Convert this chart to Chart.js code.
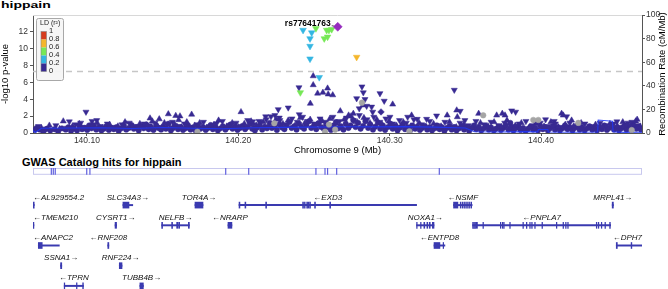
<!DOCTYPE html>
<html>
<head>
<meta charset="utf-8">
<script src="https://cdn.jsdelivr.net/npm/chart.js@4/dist/chart.umd.min.js"></script>
<style>
body { margin:0; width:668px; height:289px; overflow:hidden; background:#fff; position:relative; font-family:"Liberation Sans", Arial, sans-serif; }
canvas { position:absolute; left:0; }
.ttl { position:absolute; font-weight:bold; color:#000; white-space:nowrap; }
</style>
</head>
<body>
<div class="ttl" style="left:1px; top:0; font-size:14px; line-height:14px; transform:scale(1,0.7); transform-origin:0 0;">hippain</div>
<canvas id="assoc" width="668" height="156" style="top:0"></canvas>
<div class="ttl" style="left:22px; top:156px; font-size:11px; line-height:12px;">GWAS Catalog hits for hippain</div>
<canvas id="catalog" width="668" height="20" style="top:160px"></canvas>
<canvas id="genes" width="668" height="111" style="top:185px"></canvas>
<script>
// axis ranges and ticks
const xMin = 140.0644, xMax = 140.4667;
const xTicks = [140.10, 140.20, 140.30, 140.40];
const yTicks = [0, 2, 4, 6, 8, 10, 12];
const recTicks = [0, 20, 40, 60, 80, 100];
const gwsLine = 7.3;

// lead variant
const leadSnp = [[140.2657, 12.6]];
const leadName = "rs77641763";

// LD coloured points (all pointing down)
const cyanDown = [[140.2428, 12.2], [140.2485, 11.9], [140.2474, 11.2], [140.2474, 10.3], [140.2474, 8.8], [140.2535, 6.6]];
const greenDown = [[140.2513, 12.4], [140.2584, 12.2], [140.2599, 12.2], [140.2617, 12.3], [140.2568, 11.2], [140.2590, 11.4], [140.2410, 4.8]];
const orangeDown = [[140.2782, 9.0]];

// r2 < 0.2
const navyCircles = [
  [140.0655,0.35],[140.0668,0.6],[140.0689,0.4],[140.0712,0.15],[140.0735,0.5],[140.0758,0.3],[140.0786,0.45],[140.0810,0.2],
  [140.0835,0.55],[140.0860,0.4],[140.0878,0.7],[140.0895,0.25],[140.0912,0.5],[140.0935,0.3],[140.0952,0.8],[140.0968,0.45],
  [140.0985,0.6],[140.1002,0.35],[140.1015,0.9],[140.1030,0.55],[140.1048,0.75],[140.1062,0.4],[140.1080,0.65],[140.1096,0.3],
  [140.1112,0.5],[140.1128,0.8],[140.1145,0.35],[140.1160,0.6],[140.1178,0.45],[140.1195,0.7],[140.1210,0.25],[140.1228,0.55],
  [140.1245,0.85],[140.1260,0.4],[140.1278,0.6],[140.1295,0.95],[140.1310,0.5],[140.1326,0.7],[140.1342,0.3],[140.1360,0.8],
  [140.1375,0.55],[140.1392,1.0],[140.1408,0.45],[140.1425,0.65],[140.1440,0.35],[140.1458,0.9],[140.1472,0.6],[140.1490,0.4],
  [140.1505,0.75],[140.1522,0.5],[140.1538,1.1],[140.1555,0.3],[140.1570,0.6],[140.1588,0.85],[140.1602,0.45],[140.1620,0.7],
  [140.1635,0.35],[140.1652,0.55],[140.1668,0.9],[140.1685,0.4],[140.1700,0.65],[140.1718,0.3],[140.1735,0.8],[140.1750,0.5],
  [140.1768,0.7],[140.1785,0.35],[140.1800,0.6],[140.1818,0.95],[140.1832,0.45],[140.1850,0.7],[140.1865,0.3],[140.1882,0.55],
  [140.1898,0.8],[140.1915,0.4],[140.1930,0.65],[140.1948,1.0],[140.1962,0.5],[140.1980,0.75],[140.1995,0.35],[140.2012,0.6],
  [140.2028,0.85],[140.2045,0.45],[140.2060,0.7],[140.2078,1.1],[140.2092,0.5],[140.2110,0.3],[140.2125,0.65],[140.2142,0.9],
  [140.2158,0.4],[140.2175,0.75],[140.2190,0.55],[140.2208,1.2],[140.2222,0.6],[140.2240,0.8],[140.2255,0.35],[140.2272,1.0],
  [140.2288,0.65],[140.2305,0.45],[140.2320,0.9],[140.2338,1.3],[140.2352,0.6],[140.2370,0.8],[140.2385,0.4],[140.2402,1.1],
  [140.2418,0.7],[140.2435,0.5],[140.2450,0.95],[140.2468,1.4],[140.2482,0.6],[140.2500,0.85],[140.2515,0.45],[140.2532,1.2],
  [140.2548,0.7],[140.2565,0.5],[140.2580,1.0],[140.2598,0.65],[140.2612,0.35],[140.2630,0.9],[140.2645,1.3],[140.2662,0.55],
  [140.2678,0.8],[140.2695,0.4],[140.2710,1.1],[140.2728,0.6],[140.2742,0.9],[140.2760,1.5],[140.2775,0.7],[140.2792,1.2],
  [140.2808,0.5],[140.2825,0.85],[140.2840,1.4],[140.2858,0.6],[140.2872,1.0],[140.2890,0.4],[140.2905,0.75],[140.2922,1.2],
  [140.2938,0.5],[140.2955,0.9],[140.2970,0.35],[140.2988,0.7],[140.3005,1.1],[140.3020,0.5],[140.3038,0.8],[140.3052,0.3],
  [140.3070,0.65],[140.3085,1.0],[140.3102,0.45],[140.3118,0.7],[140.3135,0.3],[140.3150,0.9],[140.3168,0.5],[140.3182,0.75],
  [140.3200,0.35],[140.3215,0.6],[140.3232,0.85],[140.3248,0.4],[140.3265,0.7],[140.3280,0.3],[140.3298,0.55],[140.3312,0.9],
  [140.3330,0.45],[140.3345,0.7],[140.3362,0.25],[140.3378,0.6],[140.3395,0.8],[140.3410,0.4],[140.3428,0.65],[140.3442,0.3],
  [140.3460,0.55],[140.3475,0.85],[140.3492,0.4],[140.3508,0.7],[140.3525,0.25],[140.3540,0.6],[140.3558,0.9],[140.3572,0.45],
  [140.3590,0.7],[140.3605,0.3],[140.3622,0.55],[140.3638,0.8],[140.3655,0.4],[140.3670,0.65],[140.3688,0.3],[140.3702,0.5],
  [140.3720,0.75],[140.3735,0.35],[140.3752,0.6],[140.3768,0.9],[140.3785,0.4],[140.3797,1.2],[140.3800,0.65],[140.3818,0.3],
  [140.3832,0.55],[140.3850,0.8],[140.3865,0.35],[140.3882,0.6],[140.3898,0.25],[140.3915,0.5],[140.3930,0.75],[140.3948,0.4],
  [140.3962,0.6],[140.3980,0.3],[140.3995,0.85],[140.4012,0.45],[140.4028,0.7],[140.4045,0.3],[140.4060,0.55],[140.4078,0.8],
  [140.4092,0.4],[140.4110,0.65],[140.4125,0.3],[140.4142,0.55],[140.4158,0.9],[140.4175,0.45],[140.4190,0.7],[140.4208,0.3],
  [140.4222,0.6],[140.4240,0.85],[140.4255,0.4],[140.4272,0.65],[140.4288,0.3],[140.4305,0.55],[140.4320,0.8],[140.4338,0.4],
  [140.4352,0.6],[140.4370,0.3],[140.4385,0.7],[140.4402,0.45],[140.4418,0.9],[140.4435,0.35],[140.4450,0.6],[140.4468,0.8],
  [140.4482,0.4],[140.4500,0.65],[140.4515,0.3],[140.4532,0.55],[140.4548,0.8],[140.4565,0.4],[140.4580,0.65],[140.4598,0.35],
  [140.4612,0.9],[140.4630,0.5],[140.4645,0.75],[140.4660,0.4]
];
const navyDiamonds = [[140.2943, 2.5]];
const navyUp = [
  [140.2495,6.76],[140.2495,5.7],[140.2590,5.3],[140.2524,4.7],[140.2559,4.8],[140.2594,4.6],[140.2624,4.5],[140.2476,3.5],
  [140.2018,2.5],[140.2674,2.6],[140.1692,2.2],[140.3020,3.4],[140.3380,2.1],[140.3588,2.3],[140.3707,2.1],[140.3447,1.9],
  [140.2729,2.1],[140.3744,2.3],[140.4136,2.3],[140.4202,1.5],[140.4635,1.6],[140.1538,2.25],[140.1478,1.65],[140.1587,2.05],
  [140.1417,1.75],[140.1606,1.55],[140.0844,1.4],[140.1615,2.0],[140.2760,2.3],[140.2824,3.3],[140.3145,2.1],[140.3443,2.7],
  [140.3762,2.1],[140.4147,2.1],
  [140.0700,0.6],[140.0752,0.9],[140.0820,0.5],[140.0905,0.8],[140.0950,1.1],[140.1010,0.7],[140.1068,1.2],[140.1105,0.6],
  [140.1150,1.0],[140.1205,0.8],[140.1252,1.3],[140.1300,0.7],[140.1350,1.1],[140.1398,0.9],[140.1432,1.4],[140.1465,0.8],
  [140.1512,1.2],[140.1548,0.6],[140.1580,1.0],[140.1625,0.7],[140.1660,1.3],[140.1712,0.9],[140.1745,1.2],[140.1790,0.6],
  [140.1840,1.0],[140.1870,1.5],[140.1925,0.8],[140.1960,1.2],[140.2000,0.7],[140.2040,1.1],[140.2085,1.4],[140.2120,0.9],
  [140.2165,1.3],[140.2200,0.8],[140.2250,1.6],[140.2295,1.1],[140.2330,1.5],[140.2375,0.9],[140.2410,1.8],[140.2440,1.2],
  [140.2475,1.6],[140.2520,1.0],[140.2555,1.4],[140.2605,1.7],[140.2650,1.1],[140.2700,1.6],[140.2745,2.0],[140.2785,1.3],
  [140.2830,1.8],[140.2870,1.2],[140.2915,1.6],[140.2950,1.0],[140.2995,1.4],[140.3045,0.9],[140.3090,1.3],[140.3140,0.8],
  [140.3195,1.2],[140.3240,0.7],[140.3290,1.1],[140.3340,0.8],[140.3395,1.3],[140.3440,0.7],[140.3490,1.0],[140.3545,0.6],
  [140.3600,1.2],[140.3650,0.8],[140.3690,1.3],[140.3740,0.7],[140.3775,1.5],[140.3830,0.9],[140.3870,1.2],[140.3925,0.7],
  [140.3975,1.1],[140.4020,0.8],[140.4065,1.3],[140.4115,0.7],[140.4160,1.0],[140.4215,0.8],[140.4265,1.2],[140.4310,0.6],
  [140.4360,1.0],[140.4405,0.7],[140.4455,1.1],[140.4505,0.8],[140.4540,1.3],[140.4590,0.9],[140.4625,1.4],[140.4655,0.8]
];
const navyDown = [
  [140.2401,5.4],[140.2817,5.5],[140.2826,4.8],[140.2782,4.1],[140.2837,4.0],[140.2848,3.2],[140.2881,3.1],[140.2799,2.9],
  [140.2936,4.7],[140.2964,3.8],[140.2888,2.5],[140.3427,5.1],[140.3466,2.6],[140.3310,2.05],[140.3002,1.9],[140.3119,1.9],
  [140.3182,1.65],[140.3244,1.65],[140.3497,1.5],[140.2330,3.0],[140.2264,2.8],[140.2403,2.2],[140.2095,1.35],[140.2137,1.4],
  [140.2181,1.95],[140.2216,1.95],[140.2242,2.1],[140.0994,2.5],[140.0884,1.35],[140.0959,1.2],[140.1034,1.4],[140.1065,1.5],
  [140.3806,2.65],[140.3832,2.5],[140.4169,1.95],[140.4087,1.4],[140.3960,1.3],[140.4030,1.6],[140.4501,1.35],[140.4574,1.2],
  [140.2271,1.8],
  [140.0680,0.8],[140.0730,0.5],[140.0795,0.9],[140.0870,0.6],[140.0925,1.0],[140.0980,0.7],[140.1040,1.0],[140.1088,0.8],
  [140.1135,1.1],[140.1185,0.7],[140.1232,1.0],[140.1280,1.2],[140.1330,0.8],[140.1378,1.1],[140.1415,0.9],[140.1450,1.2],
  [140.1495,0.7],[140.1530,1.0],[140.1565,1.3],[140.1600,0.8],[140.1645,1.1],[140.1690,0.7],[140.1728,1.0],[140.1770,1.3],
  [140.1810,0.8],[140.1855,1.1],[140.1895,1.4],[140.1940,0.9],[140.1985,1.2],[140.2025,0.8],[140.2062,1.5],[140.2100,1.0],
  [140.2148,1.3],[140.2185,1.6],[140.2230,1.2],[140.2275,1.5],[140.2315,1.0],[140.2355,1.7],[140.2390,1.3],[140.2425,1.9],
  [140.2460,1.4],[140.2500,1.1],[140.2540,1.7],[140.2580,1.3],[140.2625,1.9],[140.2668,1.4],[140.2715,1.8],[140.2760,1.5],
  [140.2800,2.1],[140.2850,1.6],[140.2895,1.9],[140.2935,1.3],[140.2975,1.7],[140.3020,1.1],[140.3065,1.5],[140.3110,1.2],
  [140.3160,1.6],[140.3210,1.0],[140.3265,1.4],[140.3315,0.9],[140.3365,1.3],[140.3415,0.8],[140.3465,1.2],[140.3520,0.9],
  [140.3570,1.4],[140.3625,1.0],[140.3670,1.3],[140.3720,0.9],[140.3760,1.2],[140.3810,0.8],[140.3855,1.1],[140.3900,1.4],
  [140.3945,0.9],[140.3995,1.2],[140.4045,0.8],[140.4095,1.1],[140.4140,0.7],[140.4190,1.2],[140.4240,0.9],[140.4290,1.1],
  [140.4340,0.8],[140.4390,1.2],[140.4430,0.9],[140.4480,1.1],[140.4520,0.7],[140.4560,1.0],[140.4600,1.3],[140.4640,0.9]
];
// no LD information
const greyCircles = [[140.2817,3.6],[140.3618,2.1],[140.3982,1.55],[140.4246,1.2],[140.2238,1.15],[140.2599,1.0],[140.2573,0.15],
  [140.1730,0.15],[140.4599,0.35],[140.3949,1.55],[140.2640,0.4],[140.3130,0.2]];

// recombination rate (cM/Mb)
const recPos  = [140.0644,140.0660,140.0700,140.0900,140.1100,140.1300,140.1500,140.1700,140.1900,140.2100,140.2300,140.2500,
  140.2700,140.2900,140.3100,140.3300,140.3500,140.3560,140.3700,140.3900,140.3978,140.3982,140.4045,140.4048,140.4200,
  140.4374,140.4378,140.4472,140.4476,140.4550,140.4667];
const recRate = [2.0,0.5,4.0,4.2,4.5,3.8,4.6,4.0,3.6,4.4,4.8,5.0,5.3,5.2,5.4,5.0,4.2,1.0,0.8,1.2,1.0,3.0,3.0,0.8,0.6,0.8,11,10,1.0,0.5,0.6];

// GWAS catalog hits (Mb)
const catalogHits = [140.0765,140.0778,140.0791,140.0999,140.1020,140.1917,140.2069,140.2513,140.2573,140.2590,140.2650,140.3328];

// genes
const rowLabels = ["r1", "r2", "r3", "r4", "r5"];
const geneNames  = ["AL929554.2","SLC34A3","TOR4A","EXD3","NSMF","MRPL41","TMEM210","CYSRT1","NELFB","NRARP","NOXA1","PNPLA7",
  "ANAPC2","RNF208","ENTPD8","DPH7","SSNA1","RNF224","TPRN","TUBB4B"];
const geneStrand = ["-","+","+","-","-","+","-","+","+","-","+","-","-","-","-","-","+","+","-","+"];
const geneRow    = [0,0,0,0,0,0,1,1,1,1,1,1,2,2,2,2,3,3,4,4];
const geneStart  = [140.0640,140.1238,140.1714,140.2005,140.3422,140.4470,140.0640,140.1186,140.1494,140.1932,140.3178,140.3548,
  140.0679,140.1138,140.3293,140.4497,140.0826,140.1214,140.0850,140.1350];
const geneEnd    = [140.0652,140.1303,140.1767,140.3178,140.3545,140.4478,140.0650,140.1196,140.1677,140.1958,140.3293,140.4460,
  140.0818,140.1145,140.3365,140.4668,140.0834,140.1232,140.0977,140.1373];
const geneExons = [
  [[140.0640,140.0652]],
  [[140.1238,140.1278]],
  [[140.1714,140.1767]],
  [[140.2005,140.2011],[140.2044,140.2050],[140.2181,140.2187],[140.2425,140.2431],[140.2437,140.2442],[140.2452,140.2458],
   [140.2462,140.2468],[140.2472,140.2477],[140.2504,140.2510],[140.2604,140.2610]],
  [[140.3422,140.3451],[140.3466,140.3472],[140.3480,140.3486],[140.3494,140.3500],[140.3508,140.3514],[140.3522,140.3528],[140.3536,140.3542]],
  [[140.4470,140.4478]],
  [[140.0640,140.0650]],
  [[140.1186,140.1196]],
  [[140.1494,140.1500],[140.1560,140.1566],[140.1593,140.1600],[140.1606,140.1613],[140.1670,140.1677]],
  [[140.1932,140.1958]],
  [[140.3178,140.3182],[140.3204,140.3208],[140.3226,140.3232],[140.3246,140.3252],[140.3262,140.3268],[140.3282,140.3293]],
  [[140.3548,140.3552],[140.3555,140.3560],[140.3563,140.3567],[140.3570,140.3580],[140.3616,140.3620],[140.3731,140.3735],
   [140.3744,140.3748],[140.3753,140.3757],[140.3793,140.3797],[140.3880,140.3884],[140.3903,140.3907],[140.3925,140.3929],
   [140.3938,140.3942],[140.3958,140.3962],[140.4006,140.4010],[140.4101,140.4105],[140.4145,140.4149],[140.4162,140.4166],
   [140.4176,140.4180],[140.4365,140.4369],[140.4378,140.4382],[140.4398,140.4402],[140.4422,140.4426],[140.4453,140.4458]],
  [[140.0679,140.0705]],
  [[140.1138,140.1145]],
  [[140.3293,140.3332],[140.3353,140.3357]],
  [[140.4497,140.4504],[140.4595,140.4600]],
  [[140.0826,140.0834]],
  [[140.1214,140.1232]],
  [[140.0850,140.0854],[140.0931,140.0935],[140.0972,140.0977]],
  [[140.1350,140.1373]]
];

// colours
const NAVY = "rgb(56,42,146)";
const LD_COLORS = ["rgb(56,42,146)", "rgb(52,182,226)", "rgb(118,232,86)", "rgb(244,182,44)", "rgb(214,60,30)"];
const LD_LABELS = ["0", "0.2", "0.4", "0.6", "0.8", "1"];
const GENE_COLOR = "rgb(58,58,176)";

Chart.defaults.font.family = '"Liberation Sans", Arial, sans-serif';
Chart.defaults.color = "#333";

const toXY = arr => arr.map(p => ({ x: p[0], y: p[1] }));

function pts(data, color, style, radius, rotation, order) {
    return {
        data: toXY(data),
        backgroundColor: color,
        borderColor: color,
        borderWidth: 0.5,
        pointStyle: style,
        pointRadius: radius,
        rotation: rotation,
        order: order
    };
}

// frame, legend, lead label and right axis title
const assocExtras = {
    id: "assocExtras",
    afterDraw(chart) {
        const ctx = chart.ctx;
        const a = chart.chartArea;
        ctx.save();
        ctx.strokeStyle = "#d8d8d8";
        ctx.lineWidth = 1;
        ctx.beginPath();
        ctx.moveTo(a.left, a.top + 0.5);
        ctx.lineTo(a.right, a.top + 0.5);
        ctx.stroke();

        // LD legend
        const bx = a.left + 3, by = a.top + 3;
        ctx.fillStyle = "rgba(246,246,246,0.95)";
        ctx.strokeStyle = "#a8a8a8";
        ctx.beginPath();
        ctx.roundRect(bx + 0.5, by + 0.5, 27, 62, 2);
        ctx.fill();
        ctx.stroke();
        ctx.fillStyle = "#222";
        ctx.font = '7px "Liberation Sans", Arial, sans-serif';
        ctx.textBaseline = "middle";
        ctx.fillText("LD (r\u00b2)", bx + 4, by + 5);
        const top = by + 13.5, h = 8;
        for (let i = 0; i < 5; i++) {
            ctx.fillStyle = LD_COLORS[4 - i];
            ctx.fillRect(bx + 5, top + i * h, 5.5, h);
        }
        ctx.strokeStyle = "#888";
        ctx.lineWidth = 0.6;
        ctx.strokeRect(bx + 5, top, 5.5, h * 5);
        ctx.fillStyle = "#222";
        ctx.font = '7.5px "Liberation Sans", Arial, sans-serif';
        for (let i = 0; i < 6; i++) {
            ctx.fillText(LD_LABELS[5 - i], bx + 13, top + i * h - 0.5);
        }

        // lead variant label
        const meta = chart.getDatasetMeta(0);
        const p = meta.data[0];
        ctx.fillStyle = "#000";
        ctx.font = 'bold 8.5px "Liberation Sans", Arial, sans-serif';
        ctx.textAlign = "right";
        ctx.textBaseline = "alphabetic";
        ctx.fillText(leadName, p.x - 7, p.y - 0.5);
        ctx.strokeStyle = "#555";
        ctx.lineWidth = 1;
        ctx.beginPath();
        ctx.moveTo(p.x - 6, p.y - 1);
        ctx.lineTo(p.x - 4, p.y - 1);
        ctx.stroke();

        // right axis title
        ctx.translate(662, (a.top + a.bottom) / 2);
        ctx.rotate(-Math.PI / 2);
        ctx.textAlign = "center";
        ctx.textBaseline = "middle";
        ctx.font = '9.5px "Liberation Sans", Arial, sans-serif';
        ctx.fillStyle = "#000";
        ctx.fillText("Recombination Rate (cM/Mb)", 0, 0);
        ctx.restore();
    }
};

new Chart(document.getElementById("assoc"), {
    type: "scatter",
    data: {
        datasets: [
            pts(leadSnp, "rgb(150,44,190)", "rectRot", 4.5, 0, 0),
            pts(orangeDown, LD_COLORS[3], "triangle", 3.8, 180, 1),
            pts(greenDown, LD_COLORS[2], "triangle", 3.8, 180, 1),
            pts(cyanDown, LD_COLORS[1], "triangle", 3.8, 180, 1),
            pts(greyCircles, "rgb(165,165,165)", "circle", 2.8, 0, 2),
            {
                type: "line",
                data: recPos.map((x, i) => ({ x: x, y: recRate[i] })),
                yAxisID: "y1",
                borderColor: "rgba(30,55,250,0.85)",
                borderWidth: 1.1,
                pointRadius: 0,
                tension: 0,
                order: 3
            },
            pts(navyDiamonds, NAVY, "rectRot", 3.3, 0, 4),
            pts(navyUp, NAVY, "triangle", 3.5, 0, 4),
            pts(navyDown, NAVY, "triangle", 3.5, 180, 4),
            pts(navyCircles, NAVY, "circle", 2.7, 0, 5),
            {
                type: "line",
                data: [{ x: xMin, y: gwsLine }, { x: xMax, y: gwsLine }],
                borderColor: "#c6c6c6",
                borderWidth: 1.5,
                borderDash: [6, 5],
                pointRadius: 0,
                order: 6
            }
        ]
    },
    options: {
        responsive: false,
        animation: false,
        layout: { padding: { top: 15, left: 0, right: 0, bottom: 0 } },
        plugins: { legend: { display: false }, tooltip: { enabled: false } },
        scales: {
            x: {
                type: "linear",
                min: xMin,
                max: xMax,
                afterBuildTicks: s => { s.ticks = xTicks.map(v => ({ value: v })); },
                afterFit: s => { s.height = 23; },
                ticks: { callback: v => v.toFixed(2), font: { size: 8.5 }, padding: 0, maxRotation: 0 },
                grid: { drawOnChartArea: false, tickLength: 3, color: "#555" },
                border: { color: "#555" },
                title: { display: true, text: "Chromosome 9 (Mb)", font: { size: 9.5 }, color: "#000", padding: 0 }
            },
            y: {
                position: "left",
                min: 0,
                max: 14,
                afterBuildTicks: s => { s.ticks = yTicks.map(v => ({ value: v })); },
                afterFit: s => { s.width = 33; },
                ticks: { font: { size: 8.5 }, padding: 2 },
                grid: { drawOnChartArea: false, tickLength: 3, color: "#555" },
                border: { color: "#555" },
                title: { display: true, text: "-log10 p-value", font: { size: 9.5 }, color: "#000", padding: 0 }
            },
            y1: {
                position: "right",
                min: 0,
                max: 100,
                afterBuildTicks: s => { s.ticks = recTicks.map(v => ({ value: v })); },
                afterFit: s => { s.width = 26; },
                ticks: { font: { size: 8.5 }, padding: 1 },
                grid: { drawOnChartArea: false, tickLength: 3, color: "#555" },
                border: { color: "#555" }
            }
        }
    },
    plugins: [assocExtras]
});

// GWAS catalog track
const catalogBox = {
    id: "catalogBox",
    beforeDatasetsDraw(chart) {
        const a = chart.chartArea, ctx = chart.ctx;
        ctx.save();
        ctx.strokeStyle = "rgb(200,200,238)";
        ctx.lineWidth = 1;
        ctx.strokeRect(a.left + 0.5, a.top + 0.5, a.right - a.left - 1, a.bottom - a.top - 1);
        ctx.restore();
    }
};

new Chart(document.getElementById("catalog"), {
    type: "scatter",
    data: {
        datasets: [{
            data: catalogHits.map(x => ({ x: x, y: 0.5 })),
            pointStyle: "line",
            rotation: 90,
            pointRadius: 4,
            borderWidth: 1.2,
            borderColor: "rgb(96,96,222)"
        }]
    },
    options: {
        responsive: false,
        animation: false,
        layout: { padding: { top: 8, bottom: 4, left: 33, right: 26 } },
        plugins: { legend: { display: false }, tooltip: { enabled: false } },
        scales: {
            x: { type: "linear", min: xMin, max: xMax, display: false },
            y: { min: 0, max: 1, display: false }
        }
    },
    plugins: [catalogBox]
});

// gene track
const intronData = geneNames.map((n, i) => ({ x: [geneStart[i], geneEnd[i]], y: rowLabels[geneRow[i]] }));
const exonData = [];
geneExons.forEach((ex, i) => ex.forEach(e => exonData.push({ x: e, y: rowLabels[geneRow[i]] })));

const geneLabels = {
    id: "geneLabels",
    afterDatasetsDraw(chart) {
        const ctx = chart.ctx, a = chart.chartArea;
        const xs = chart.scales.x, ys = chart.scales.y;
        ctx.save();
        ctx.font = 'italic 8px "Liberation Sans", Arial, sans-serif';
        ctx.fillStyle = "#111";
        ctx.textBaseline = "alphabetic";
        geneNames.forEach((n, i) => {
            const txt = geneStrand[i] === "+" ? n + "\u2192" : "\u2190" + n;
            const w = ctx.measureText(txt).width;
            const cx = xs.getPixelForValue((geneStart[i] + geneEnd[i]) / 2);
            const left = Math.max(a.left, Math.min(cx - w / 2, a.right - w));
            ctx.fillText(txt, left, ys.getPixelForValue(geneRow[i]) - 5.5);
        });
        ctx.restore();
    }
};

new Chart(document.getElementById("genes"), {
    type: "bar",
    data: {
        labels: rowLabels,
        datasets: [
            { data: exonData, backgroundColor: GENE_COLOR, barThickness: 6, grouped: false, borderSkipped: false, borderWidth: 0 },
            { data: intronData, backgroundColor: GENE_COLOR, barThickness: 1.3, grouped: false, borderSkipped: false, borderWidth: 0 }
        ]
    },
    options: {
        indexAxis: "y",
        responsive: false,
        animation: false,
        layout: { padding: { top: 10, bottom: 0, left: 33, right: 26 } },
        plugins: { legend: { display: false }, tooltip: { enabled: false } },
        scales: {
            x: { type: "linear", min: xMin, max: xMax, display: false },
            y: { type: "category", offset: true, display: false }
        }
    },
    plugins: [geneLabels]
});
</script>
</body>
</html>
